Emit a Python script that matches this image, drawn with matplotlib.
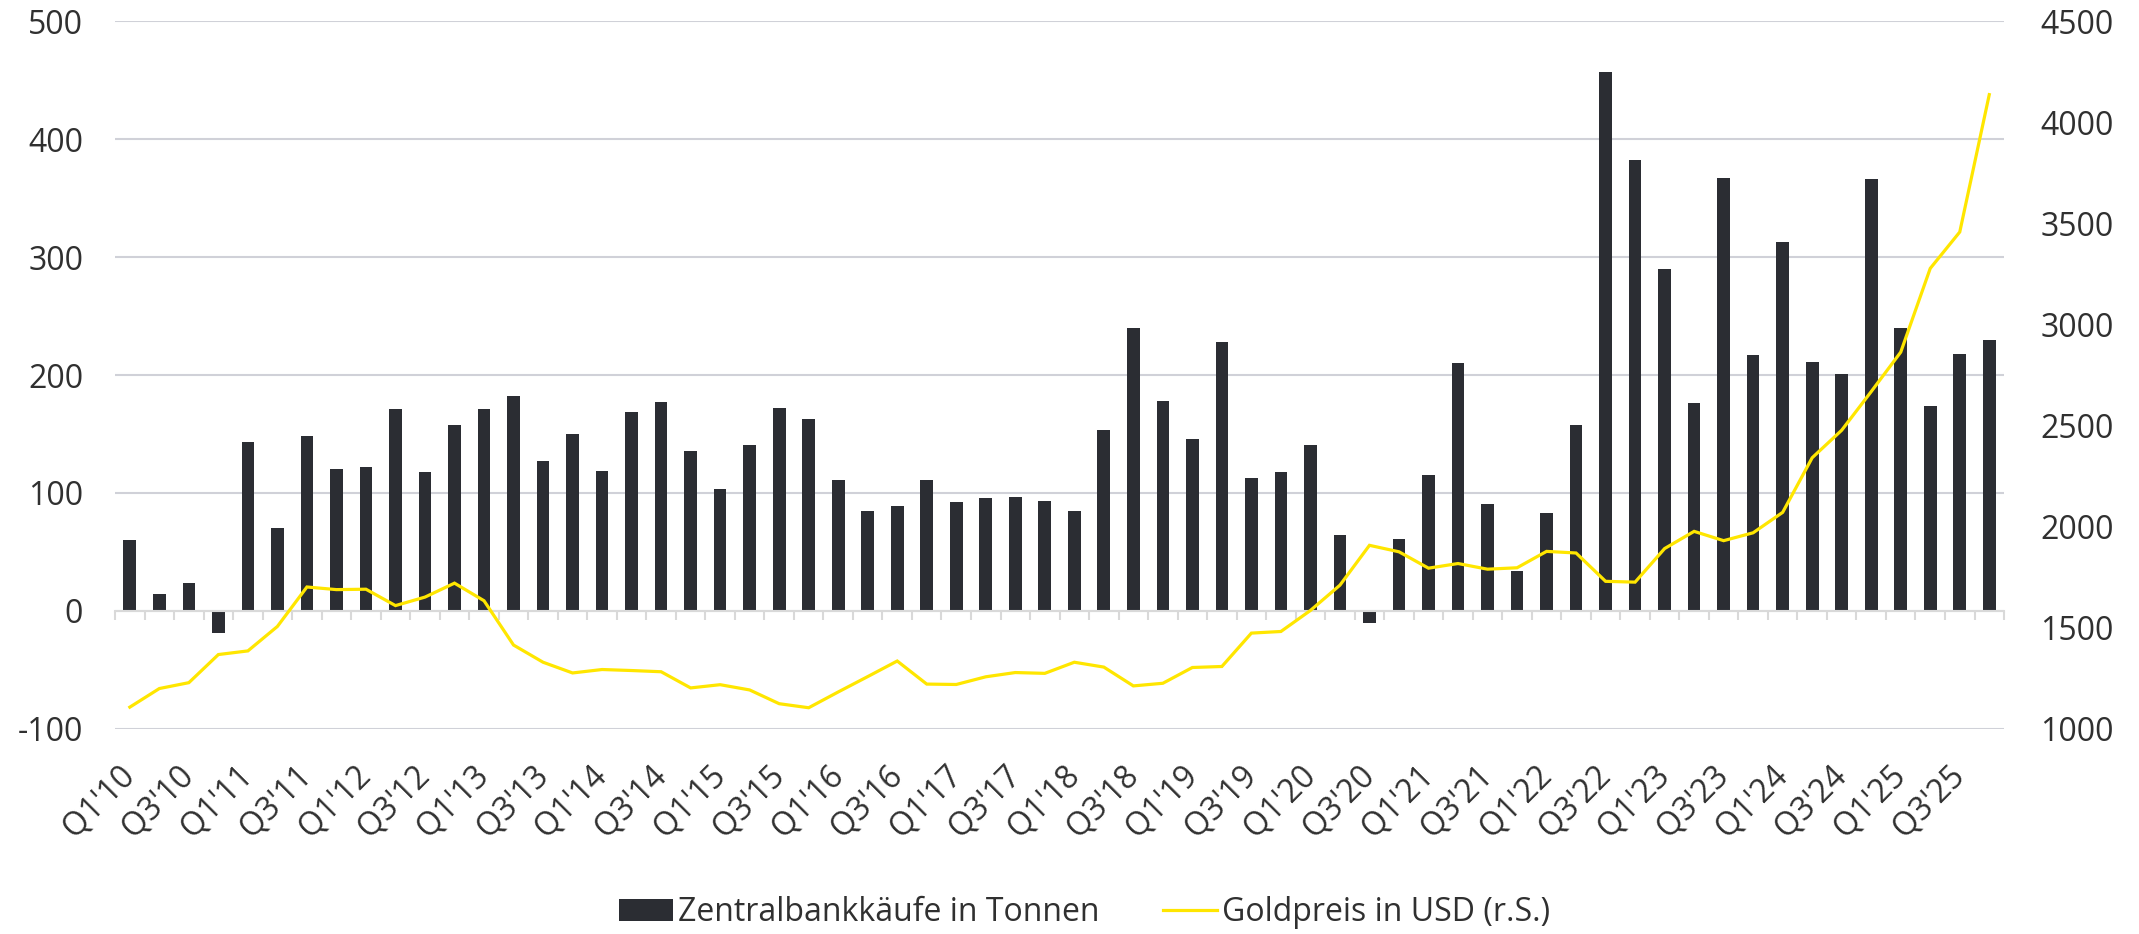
#!/usr/bin/env python3
# central bank gold purchases (bars) vs. gold price (line, right axis)
import numpy as np
import matplotlib.pyplot as plt

plt.rcParams['font.family'] = ['Open Sans', 'DejaVu Sans']

# tonnes per quarter, Q1'10 .. Q4'25
purchases = [60, 14, 24, -19, 143, 70, 148, 120, 122, 171,
             118, 158, 171, 182, 127, 150, 119, 169, 177, 136,
             103, 141, 172, 163, 111, 85, 89, 111, 92, 96,
             97, 93, 85, 153, 240, 178, 146, 228, 113, 118,
             141, 64, -10, 61, 115, 210, 91, 34, 83, 158,
             457, 382, 290, 176, 367, 217, 313, 211, 201, 366,
             240, 174, 218, 230]
# gold price in USD, same quarters
gold = [1108, 1200, 1229, 1368, 1386, 1507, 1702, 1689, 1691, 1610,
        1652, 1721, 1634, 1415, 1330, 1277, 1294, 1289, 1283, 1203,
        1219, 1193, 1125, 1105, 1183, 1259, 1336, 1222, 1220, 1258,
        1279, 1275, 1330, 1306, 1213, 1226, 1304, 1309, 1474, 1482,
        1586, 1711, 1908, 1876, 1795, 1818, 1790, 1797, 1878, 1870,
        1730, 1726, 1892, 1977, 1931, 1970, 2071, 2341, 2477, 2668,
        2863, 3277, 3457, 4136]
# every second quarter is labelled
tick_labels = ["Q1'10", "Q3'10", "Q1'11", "Q3'11", "Q1'12", "Q3'12", "Q1'13", "Q3'13",
               "Q1'14", "Q3'14", "Q1'15", "Q3'15", "Q1'16", "Q3'16", "Q1'17", "Q3'17",
               "Q1'18", "Q3'18", "Q1'19", "Q3'19", "Q1'20", "Q3'20", "Q1'21", "Q3'21",
               "Q1'22", "Q3'22", "Q1'23", "Q3'23", "Q1'24", "Q3'24", "Q1'25", "Q3'25"]

txt = '#303030'
grid = '#d0d1d8'
bar_col = '#2b2d33'
gold_col = '#ffe600'

x = np.arange(len(purchases))

fig = plt.figure(figsize=(21.39, 9.34), dpi=100)
ax = fig.add_axes([0.0538, 0.2195, 0.8831, 0.758])
ax2 = ax.twinx()

bars = ax.bar(x, purchases, 0.43, color=bar_col, zorder=2)
line, = ax2.plot(x, gold, color=gold_col, lw=2.3, solid_joinstyle='miter')

ax.set_xlim(-0.5, len(x) - 0.5)
ax.set_ylim(-100, 500)
ax2.set_ylim(1000, 4500)

# gridlines from left axis, zero line acts as category axis
ax.set_yticks([-100, 0, 100, 200, 300, 400, 500])
ax.set_yticklabels(['-100', '0', '100', '200', '300', '400', '500'], size=23, color=txt)
ax.tick_params(axis='y', length=0, pad=23)
ax.grid(axis='y', color=grid, lw=1.5)
ax.set_axisbelow(True)
ax2.set_yticks([1000, 1500, 2000, 2500, 3000, 3500, 4000, 4500])
ax2.set_yticklabels(['1000', '1500', '2000', '2500', '3000', '3500', '4000', '4500'], size=23, color=txt)
ax2.tick_params(axis='y', length=0, pad=26)

for s in ['top', 'left', 'right']:
    ax.spines[s].set_visible(False)
    ax2.spines[s].set_visible(False)
ax2.spines['bottom'].set_visible(False)
ax.spines['bottom'].set_position(('data', 0))
ax.spines['bottom'].set_color('#d9d9d9')
ax.spines['bottom'].set_linewidth(1.5)
ax.set_xticks([])
ax.set_xticks(np.arange(-0.5, len(x)), minor=True)
ax.tick_params(axis='x', which='minor', length=6.5, width=1.5, color='#d9d9d9', direction='out')

# labels sit below the plot area
sec = ax.secondary_xaxis('bottom')
sec.spines['bottom'].set_visible(False)
sec.set_xticks(x[::2])
sec.set_xticklabels(tick_labels, rotation=45, ha='right', va='center',
                    rotation_mode='anchor', size=23, color=txt)
sec.tick_params(axis='x', length=0, pad=30)

leg = fig.legend([bars, line], ['Zentralbankkäufe in Tonnen', 'Goldpreis in USD (r.S.)'],
                 loc='center', bbox_to_anchor=(0.507, 0.0225), ncol=2, frameon=False,
                 fontsize=23, handlelength=1.7, handletextpad=0.15, columnspacing=2.0,
                 labelcolor=txt)

fig.savefig('out.png', dpi=100)
